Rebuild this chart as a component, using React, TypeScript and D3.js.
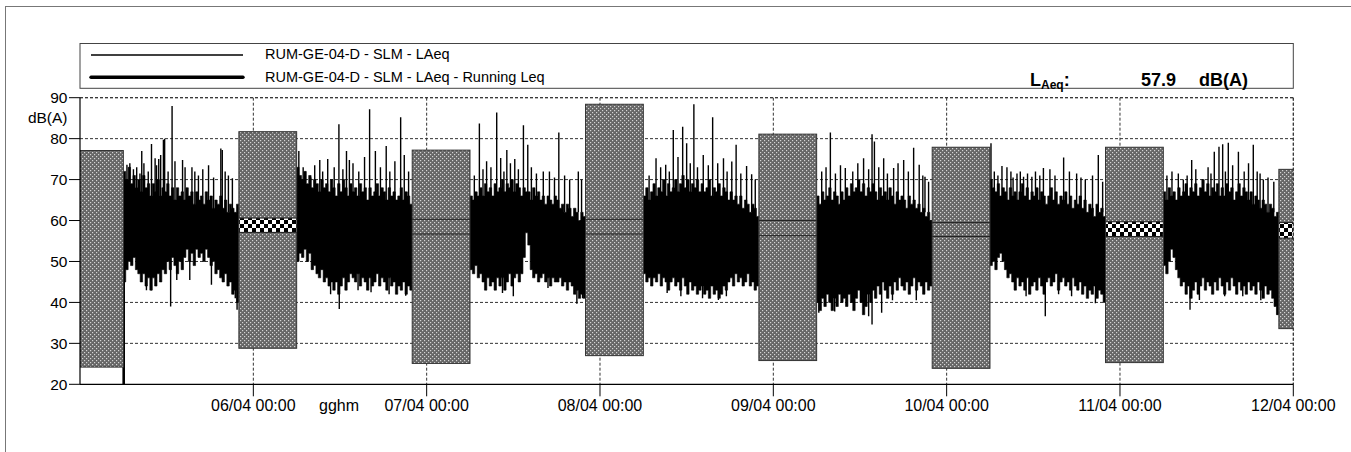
import React from "react";
import * as d3 from "d3";

// ---- axis content ----
const DAY_LABELS = ["06/04 00:00", "07/04 00:00", "08/04 00:00", "09/04 00:00", "10/04 00:00", "11/04 00:00", "12/04 00:00"];
const Y_TICKS = [20, 30, 40, 50, 60, 70, 80, 90];
const TOTAL_HOURS = 168; // 05/04 00:00 .. 12/04 00:00

// ---- night-time statistics blocks (hours from 05/04 00:00) ----
const NIGHT_START = [-2, 22, 46, 70, 94, 118, 142, 166];
const NIGHT_MAX = [77.1, 81.7, 77.2, 88.4, 81.1, 77.9, 77.9, 72.5];
const NIGHT_MIN = [24.2, 28.8, 25.1, 27.0, 25.8, 23.9, 25.3, 33.6];
const BAND_HI = [null, 60.6, 60.3, 60.3, 60.0, 59.5, 59.7, 59.5];
const BAND_LO = [null, 57.1, 56.7, 56.7, 56.3, 56.1, 56.1, 55.7];
const BAND_CHECKER = [false, true, false, false, false, false, true, true];

// ---- daytime LAeq traces: 20-minute min/max columns from 06:00 ----
const DAY_START = [6, 30, 54, 78, 102, 126, 150];

const HI_A = [72, 70, 73, 69, 71, 68, 70, 67, 71, 68, 69, 66, 69, 67, 70, 66, 68, 67, 69, 66, 68, 65, 68, 66, 67, 65, 68, 66, 67, 64, 67, 65, 66, 64, 67, 65, 66, 63, 65, 64, 66, 63, 65, 62, 64, 63, 62, 64];
const LO_A = [45, 48, 50, 49, 51, 48, 47, 45, 47, 44, 46, 43, 46, 44, 47, 45, 48, 47, 50, 48, 51, 49, 47, 50, 48, 51, 53, 50, 52, 49, 53, 51, 52, 50, 53, 51, 49, 50, 47, 48, 46, 45, 47, 44, 45, 42, 43, 40];
const PEAKS_A = [[0.5, 73.6], [0.9, 74], [1.4, 72.5], [1.85, 73], [2.3, 71.5], [2.55, 77], [2.85, 74], [3.45, 72], [3.9, 78.7], [4.4, 75.2], [4.6, 73.5], [4.9, 75], [5.17, 76], [5.55, 79.7], [5.72, 80], [6.2, 72], [6.75, 88], [7.15, 74.5], [8.2, 74.8], [8.55, 73], [9.5, 73], [9.9, 72], [10.4, 71], [11.0, 72.5], [11.8, 73.5], [12.5, 70.5], [13.5, 77.6], [13.7, 77.2], [14.1, 72], [14.55, 71], [15.1, 70.3]];
const DIPS_A = [[0.05, 20], [3.2, 43], [3.9, 43], [6.55, 39], [7.4, 45.5], [9.2, 45.5], [12.2, 44.3], [15.5, 41], [15.75, 38.2]];

const HI_B = [73, 71, 70, 72, 69, 71, 68, 70, 69, 67, 70, 68, 69, 67, 70, 68, 66, 69, 67, 70, 68, 66, 69, 67, 68, 66, 69, 67, 68, 65, 68, 66, 67, 69, 66, 68, 67, 65, 68, 66, 67, 65, 66, 68, 65, 67, 66, 64];
const LO_B = [50, 52, 51, 53, 50, 52, 48, 49, 47, 46, 48, 45, 46, 44, 45, 43, 45, 42, 44, 46, 43, 45, 47, 46, 45, 47, 44, 46, 45, 43, 46, 44, 45, 47, 44, 46, 45, 43, 46, 44, 45, 42, 44, 43, 45, 42, 44, 43];
const PEAKS_B = [[0.3, 77], [0.9, 73], [1.2, 72], [1.95, 70.5], [2.5, 73.5], [3.2, 74.8], [3.6, 72], [4.3, 75], [5.2, 73], [5.85, 83.5], [6.4, 72.5], [6.9, 77], [7.3, 74.8], [7.8, 74], [8.6, 72], [9.4, 75.5], [10.1, 87.2], [10.9, 77], [11.6, 73], [12.4, 78.2], [12.9, 72], [13.6, 74.5], [14.4, 85.2], [14.9, 76], [15.5, 72]];
const DIPS_B = [[4.7, 42], [5.9, 38.4], [8.5, 43], [10.3, 42.5], [12.8, 42], [15.1, 41.6]];

const HI_C = [66, 65, 67, 66, 68, 66, 69, 67, 68, 66, 69, 67, 68, 70, 67, 69, 68, 70, 67, 69, 68, 66, 68, 67, 67, 65, 68, 66, 67, 65, 66, 64, 66, 65, 64, 66, 65, 63, 64, 62, 64, 63, 61, 63, 62, 60, 62, 61];
const LO_C = [48, 47, 49, 46, 47, 45, 43, 46, 44, 45, 43, 46, 44, 46, 43, 45, 47, 44, 46, 47, 45, 47, 51, 57, 54, 48, 46, 47, 45, 46, 47, 45, 46, 44, 46, 45, 45, 46, 44, 45, 43, 45, 44, 42, 43, 41, 42, 41];
const PEAKS_C = [[0.6, 71], [1.3, 83.7], [1.8, 72.5], [2.3, 74.5], [2.9, 73], [3.7, 86.4], [4.25, 75.3], [4.7, 72], [5.1, 77.2], [5.6, 74], [6.2, 75], [6.7, 72.5], [7.4, 83.3], [8.0, 78.5], [8.5, 73], [9.2, 71.5], [10.15, 72], [11.0, 72], [11.7, 70.5], [12.3, 81.5], [13.1, 71], [13.8, 70], [15.0, 72], [15.45, 70]];
const DIPS_C = [[4.5, 42.3], [6.0, 41.5], [10.8, 43.5], [14.8, 39.7], [15.6, 41]];

const HI_D = [66, 68, 65, 67, 69, 66, 68, 67, 70, 66, 69, 67, 68, 70, 67, 69, 71, 68, 70, 67, 69, 68, 70, 67, 69, 67, 68, 70, 66, 68, 67, 69, 66, 68, 67, 65, 67, 65, 66, 64, 66, 63, 65, 64, 62, 64, 63, 61];
const LO_D = [47, 45, 46, 44, 46, 45, 47, 44, 46, 45, 43, 45, 46, 44, 45, 43, 46, 44, 42, 45, 43, 44, 42, 43, 44, 42, 43, 41, 44, 42, 43, 41, 42, 44, 43, 45, 46, 44, 47, 45, 46, 44, 45, 47, 44, 45, 43, 44];
const PEAKS_D = [[0.8, 71], [1.76, 75.2], [2.4, 73], [3.1, 73.6], [3.6, 72], [4.15, 82.1], [4.8, 75.5], [5.45, 82.9], [6.0, 78.9], [6.5, 74], [7.0, 88.4], [7.5, 73], [8.3, 76], [9.0, 73.5], [9.6, 85.2], [10.3, 74], [11.1, 75.2], [11.6, 72], [12.25, 74.4], [12.85, 78.5], [13.5, 71.5], [14.3, 73.3], [15.0, 71.3], [15.5, 70]];
const DIPS_D = [[3.3, 42.3], [5.2, 41.5], [8.2, 41], [10.4, 40.6], [11.5, 41.5]];

const HI_E = [66, 64, 67, 65, 66, 68, 65, 67, 66, 64, 67, 65, 68, 66, 69, 67, 68, 70, 67, 69, 66, 68, 67, 69, 67, 65, 68, 66, 67, 65, 68, 66, 64, 67, 65, 66, 65, 63, 66, 64, 65, 63, 64, 62, 63, 61, 62, 60];
const LO_E = [40, 38, 41, 39, 42, 40, 38, 41, 39, 42, 40, 41, 39, 42, 40, 38, 41, 43, 40, 37, 39, 42, 40, 43, 41, 44, 42, 45, 43, 41, 44, 42, 45, 43, 46, 44, 43, 45, 42, 44, 46, 43, 45, 44, 42, 45, 43, 44];
const PEAKS_E = [[0.7, 72], [1.3, 73], [1.9, 81.5], [2.6, 71.5], [3.3, 73.5], [3.97, 72.8], [5.0, 72], [5.7, 74], [6.5, 75.2], [7.2, 72.5], [7.67, 81.1], [8.0, 79.3], [8.6, 73], [9.28, 75.2], [9.8, 71.5], [10.66, 72.8], [11.27, 74], [12.05, 74.8], [12.7, 72], [13.43, 77.8], [14.2, 73.6], [14.7, 71], [15.0, 70.7], [15.5, 69.5]];
const DIPS_E = [[0.3, 37.5], [2.5, 37.8], [7.2, 36.6], [7.67, 34.6], [9.0, 37.5], [10.5, 40.5], [13.8, 40.5]];

const HI_F = [70, 68, 67, 69, 66, 68, 67, 65, 68, 66, 67, 65, 67, 69, 66, 68, 65, 67, 66, 68, 65, 67, 66, 64, 66, 68, 65, 67, 64, 66, 65, 67, 64, 66, 63, 65, 64, 66, 63, 65, 62, 64, 63, 61, 64, 62, 63, 61];
const LO_F = [49, 50, 48, 51, 52, 50, 48, 46, 47, 45, 43, 46, 44, 45, 43, 46, 42, 44, 45, 43, 46, 44, 42, 45, 46, 44, 45, 47, 43, 45, 46, 44, 45, 43, 46, 44, 43, 45, 42, 44, 41, 43, 42, 44, 41, 43, 42, 40];
const PEAKS_F = [[0.14, 78.9], [0.6, 72], [1.1, 71], [1.66, 73.3], [2.35, 73], [2.9, 72], [3.2, 70.5], [3.74, 71.5], [4.2, 72], [4.65, 70.7], [5.2, 71.5], [5.8, 70.7], [6.3, 72], [6.9, 71], [7.4, 72.8], [8.3, 72.5], [9.0, 71], [10.2, 75.4], [11.0, 72], [12.0, 71.5], [12.6, 70.5], [13.2, 70], [14.2, 71], [15.0, 76], [15.6, 69.5]];
const DIPS_F = [[5.0, 41.5], [7.66, 36.6], [9.5, 42], [11.3, 41.5], [14.6, 39.8]];

const HI_G = [67, 65, 68, 66, 67, 65, 68, 66, 67, 69, 66, 68, 67, 69, 66, 68, 70, 67, 69, 66, 68, 67, 69, 66, 68, 66, 69, 67, 68, 65, 67, 69, 66, 68, 67, 65, 67, 64, 66, 65, 63, 65, 64, 62, 64, 63, 61, 62];
const LO_G = [49, 47, 50, 53, 51, 48, 46, 44, 45, 42, 44, 41, 43, 45, 42, 44, 46, 43, 45, 44, 42, 45, 43, 46, 44, 42, 45, 43, 46, 44, 42, 45, 43, 44, 42, 45, 43, 44, 42, 45, 43, 41, 44, 42, 43, 41, 39, 37];
const PEAKS_G = [[0.5, 71], [1.2, 72], [2.08, 71.5], [2.77, 70], [3.3, 71], [3.93, 74.8], [4.5, 72.5], [5.54, 69.9], [6.2, 73], [6.6, 71.5], [7.06, 76.8], [7.71, 78], [8.22, 78.6], [8.6, 72], [9.0, 79], [9.6, 73.5], [10.4, 76.8], [11.2, 72], [11.8, 74], [12.46, 78.5], [13.0, 72], [13.4, 71.5], [13.85, 70], [14.5, 70.5], [15.3, 69.5]];
const DIPS_G = [[3.7, 38.2], [5.0, 40.6], [8.5, 41.5], [11.0, 41.5], [13.5, 40.5], [15.8, 37]];

const DAY_HI = [HI_A, HI_B, HI_C, HI_D, HI_E, HI_F, HI_G];
const DAY_LO = [LO_A, LO_B, LO_C, LO_D, LO_E, LO_F, LO_G];
const DAY_PEAKS = [PEAKS_A, PEAKS_B, PEAKS_C, PEAKS_D, PEAKS_E, PEAKS_F, PEAKS_G];
const DAY_DIPS = [DIPS_A, DIPS_B, DIPS_C, DIPS_D, DIPS_E, DIPS_F, DIPS_G];
const COLUMN_HOURS = 1 / 3;

const LEGEND_ITEMS = ["RUM-GE-04-D - SLM - LAeq", "RUM-GE-04-D - SLM - LAeq - Running Leq"];
const LAEQ_VALUE = "57.9";

const FONT = "'Liberation Sans', Arial, sans-serif";

type Col = { t: number; hi: number; lo: number };

export default function App() {
  const width = 1351;
  const height = 452;
  const left = 80;
  const right = 1293.3;
  const top = 97.7;
  const bottom = 384.3;

  const x = d3.scaleLinear().domain([0, TOTAL_HOURS]).range([left, right]);
  const y = d3.scaleLinear().domain([20, 90]).range([bottom, top]);
  const dayTicks = DAY_LABELS.map((_, i) => (i + 1) * 24);

  // min/max columns drawn as one stepped band per daytime period
  const band = d3
    .area<Col>()
    .x((c) => x(c.t))
    .y0((c) => y(c.lo))
    .y1((c) => y(c.hi))
    .curve(d3.curveStepAfter);

  const dayPaths = DAY_START.map((start, d) => {
    const cols: Col[] = DAY_HI[d].map((hi, i) => ({ t: start + i * COLUMN_HOURS, hi, lo: DAY_LO[d][i] }));
    const last = cols[cols.length - 1];
    cols.push({ t: start + DAY_HI[d].length * COLUMN_HOURS, hi: last.hi, lo: last.lo });
    return band(cols) || "";
  });

  return (
    <svg width={width} height={height} style={{ position: "absolute", left: 0, top: 0, background: "#fff" }} fontFamily={FONT}>
      <defs>
        <pattern id="dots" width={4} height={4} patternUnits="userSpaceOnUse">
          <rect width={4} height={4} fill="#666" />
          <rect x={0} y={0} width={1.2} height={1.2} fill="#d4d4d4" />
          <rect x={2} y={2} width={1.2} height={1.2} fill="#d4d4d4" />
        </pattern>
        <pattern id="checker" width={8} height={8} patternUnits="userSpaceOnUse">
          <rect width={8} height={8} fill="#fff" />
          <rect x={0} y={0} width={4} height={4} fill="#000" />
          <rect x={4} y={4} width={4} height={4} fill="#000" />
        </pattern>
        <clipPath id="plot">
          <rect x={left} y={top} width={right - left} height={bottom - top} />
        </clipPath>
      </defs>

      {/* outer frame */}
      <rect x={5.5} y={6.5} width={1400} height={500} fill="none" stroke="#777" strokeWidth={1} />

      {/* legend */}
      <rect x={left} y={43.5} width={right - left} height={44.8} fill="#fff" stroke="#444" strokeWidth={1} />
      <line x1={91} x2={243} y1={55} y2={55} stroke="#000" strokeWidth={1.3} />
      <line x1={91} x2={243} y1={77.3} y2={77.3} stroke="#000" strokeWidth={3.4} strokeLinecap="round" />
      <text x={265} y={59} fontSize={14.5} fill="#000">{LEGEND_ITEMS[0]}</text>
      <text x={265} y={81.5} fontSize={14.5} fill="#000">{LEGEND_ITEMS[1]}</text>
      <text x={1030} y={86} fontSize={18} fontWeight="bold" fill="#000">
        L<tspan fontSize={12} dy={3}>Aeq</tspan><tspan dy={-3}>:</tspan>
      </text>
      <text x={1141} y={86} fontSize={18} fontWeight="bold" fill="#000">{LAEQ_VALUE}</text>
      <text x={1248} y={86} fontSize={18} fontWeight="bold" fill="#000" textAnchor="end">dB(A)</text>

      {/* grid */}
      {Y_TICKS.filter((v) => v > 20).map((v) => (
        <line key={"gy" + v} x1={left} x2={right} y1={y(v)} y2={y(v)} stroke="#333" strokeWidth={1} strokeDasharray="3,2" />
      ))}
      {dayTicks.map((t) => (
        <line key={"gx" + t} x1={x(t)} x2={x(t)} y1={top} y2={bottom} stroke="#333" strokeWidth={1} strokeDasharray="3,2" />
      ))}

      {/* LAeq trace */}
      <g clipPath="url(#plot)">
        {DAY_START.map((start, d) => (
          <g key={"day" + d}>
            <path d={dayPaths[d]} fill="#000" stroke="#000" strokeWidth={0.6} />
            {DAY_PEAKS[d].map(([t, v], i) => (
              <line key={"p" + i} x1={x(start + t)} x2={x(start + t)} y1={y(62)} y2={y(v)} stroke="#000" strokeWidth={1.4} />
            ))}
            {DAY_DIPS[d].map(([t, v], i) => (
              <line key={"q" + i} x1={x(start + t)} x2={x(start + t)} y1={y(52)} y2={y(v)} stroke="#000" strokeWidth={i === 0 && v <= 20 ? 2.6 : 1.4} />
            ))}
          </g>
        ))}

        {/* night blocks */}
        {NIGHT_START.map((s, i) => {
          const x0 = x(Math.max(0, s));
          const x1 = x(Math.min(TOTAL_HOURS, s + 8));
          const bh = BAND_HI[i];
          const bl = BAND_LO[i];
          return (
            <g key={"n" + i}>
              <rect x={x0} y={y(NIGHT_MAX[i])} width={x1 - x0} height={y(NIGHT_MIN[i]) - y(NIGHT_MAX[i])} fill="url(#dots)" stroke="#333" strokeWidth={1} />
              {bh !== null && bl !== null && BAND_CHECKER[i] && (
                <rect x={x0 + 0.5} y={y(bh)} width={x1 - x0 - 1} height={y(bl) - y(bh)} fill="url(#checker)" />
              )}
              {bh !== null && bl !== null && (
                <g>
                  <line x1={x0} x2={x1} y1={y(bh)} y2={y(bh)} stroke="#222" strokeWidth={1} />
                  <line x1={x0} x2={x1} y1={y(bl)} y2={y(bl)} stroke="#222" strokeWidth={1} />
                </g>
              )}
            </g>
          );
        })}
      </g>

      {/* plot border: dashed top/right, solid left/bottom */}
      <line x1={left} x2={right} y1={top} y2={top} stroke="#333" strokeWidth={1} strokeDasharray="3,2" />
      <line x1={right} x2={right} y1={top} y2={bottom} stroke="#333" strokeWidth={1} strokeDasharray="3,2" />
      <line x1={left} x2={left} y1={top} y2={bottom} stroke="#000" strokeWidth={1.2} />
      <line x1={left} x2={right} y1={bottom} y2={bottom} stroke="#000" strokeWidth={1.2} />

      {/* y axis */}
      {Y_TICKS.map((v) => (
        <g key={"ty" + v}>
          <line x1={69} x2={left} y1={y(v)} y2={y(v)} stroke="#000" strokeWidth={1} />
          <text x={67.5} y={y(v) + 5.5} fontSize={15.5} textAnchor="end" fill="#000">{v}</text>
        </g>
      ))}
      <text x={67.5} y={123} fontSize={15.5} textAnchor="end" fill="#000">dB(A)</text>

      {/* x axis */}
      {dayTicks.map((t, i) => (
        <g key={"tx" + t}>
          <line x1={x(t)} x2={x(t)} y1={bottom} y2={bottom + 12} stroke="#000" strokeWidth={1} />
          <text x={x(t)} y={411} fontSize={16} textAnchor="middle" fill="#000">{DAY_LABELS[i]}</text>
        </g>
      ))}
      <text x={339} y={411} fontSize={16} textAnchor="middle" fill="#000">gghm</text>
    </svg>
  );
}
